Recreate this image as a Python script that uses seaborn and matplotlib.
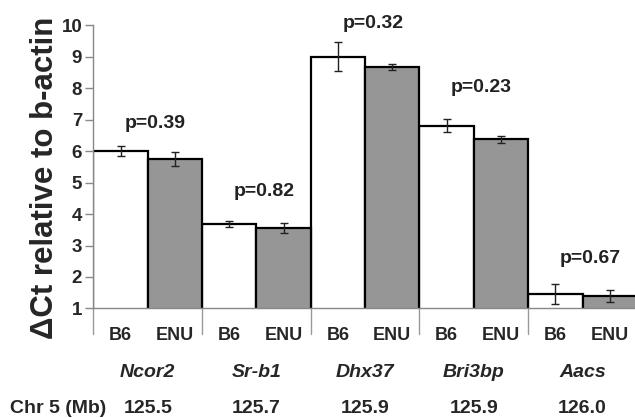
import numpy as np
import pandas as pd
import matplotlib
matplotlib.use('Agg')
import matplotlib.pyplot as plt
import matplotlib.transforms as mtransforms
import seaborn as sns

# Data
genes = ['Ncor2', 'Sr-b1', 'Dhx37', 'Bri3bp', 'Aacs']
chr_pos = ['125.5', '125.7', '125.9', '125.9', '126.0']
strains = ['B6', 'ENU']
b6_mean = [6.00, 3.69, 9.00, 6.80, 1.46]
b6_err = [0.16, 0.09, 0.45, 0.21, 0.33]
enu_mean = [5.75, 3.55, 8.67, 6.37, 1.40]
enu_err = [0.22, 0.16, 0.10, 0.10, 0.18]
p_values = ['p=0.39', 'p=0.82', 'p=0.32', 'p=0.23', 'p=0.67']

df = pd.DataFrame({
    'gene': genes * 2,
    'strain': ['B6'] * 5 + ['ENU'] * 5,
    'dct': b6_mean + enu_mean,
    'err': b6_err + enu_err,
})

sns.set_style('white')
plt.rcParams['font.family'] = ['Liberation Sans', 'DejaVu Sans']
plt.rcParams['font.weight'] = 'bold'

fig = plt.figure(figsize=(6.35, 4.18), dpi=100)
ax = fig.add_axes([0.147, 0.262, 0.856, 0.678])

sns.barplot(data=df, x='gene', y='dct', hue='strain', order=genes,
            hue_order=strains, palette={'B6': 'white', 'ENU': '#969696'},
            edgecolor='black', linewidth=1.6, width=1.0, errorbar=None,
            legend=False, ax=ax)

# error bars on top of each bar
errs = {'B6': b6_err, 'ENU': enu_err}
means = {'B6': b6_mean, 'ENU': enu_mean}
centers = {}
for strain, cont in zip(strains, ax.containers):
    xs = [b.get_x() + b.get_width() / 2 for b in cont]
    centers[strain] = xs
    ax.errorbar(xs, means[strain], yerr=errs[strain], fmt='none',
                ecolor='#222222', elinewidth=1.0, capsize=3, capthick=1.0,
                zorder=5)

ax.set_ylim(1, 10)
ax.set_xlim(-0.5, len(genes) - 0.5)
ax.set_yticks(range(1, 11))
ax.tick_params(axis='y', left=True, length=6, width=1, color='#888888',
               labelsize=13.5, pad=2)
for lab in ax.get_yticklabels():
    lab.set_fontweight('bold')

# B6 / ENU labels under each bar
xt = []
xl = []
for i in range(len(genes)):
    for s in strains:
        xt.append(centers[s][i])
        xl.append(s)
ax.set_xticks(xt)
ax.set_xticklabels(xl, fontsize=13, fontweight='bold')
ax.tick_params(axis='x', bottom=False, length=0, pad=13)

ax.set_xlabel('')
ax.set_ylabel('\u0394Ct relative to b-actin', fontsize=22.5, fontweight='bold')
ax.yaxis.set_label_coords(-0.061, 0.46)

sns.despine(ax=ax)
for side in ['left', 'bottom']:
    ax.spines[side].set_color('#888888')
    ax.spines[side].set_linewidth(1.0)

# group separators under the axis
sep = mtransforms.blended_transform_factory(ax.transData, ax.transAxes)
for b in np.arange(-0.5, len(genes), 1.0):
    ax.plot([b, b], [0, -0.09], transform=sep, color='#999999', lw=1.0,
            clip_on=False)

# p-values above each pair
p_offsets = [0.7, 0.95, 0.6, 1.0, 0.8]
for i, p in enumerate(p_values):
    top = max(b6_mean[i] + b6_err[i], enu_mean[i] + enu_err[i])
    ax.text(i + 0.07, top + p_offsets[i], p, ha='center', va='center',
            fontsize=14, fontweight='bold', color='#222222')

# gene names and chromosome positions
row = mtransforms.blended_transform_factory(ax.transData, fig.transFigure)
for i, g in enumerate(genes):
    ax.text(i, 0.108, g, transform=row, ha='center', va='center',
            fontsize=14, fontweight='bold', style='italic', clip_on=False)
    ax.text(i, 0.022, chr_pos[i], transform=row, ha='center', va='center',
            fontsize=14, fontweight='bold', clip_on=False)
fig.text(0.016, 0.022, 'Chr 5 (Mb)', ha='left', va='center',
         fontsize=14, fontweight='bold')

fig.savefig('out.png', dpi=100)
